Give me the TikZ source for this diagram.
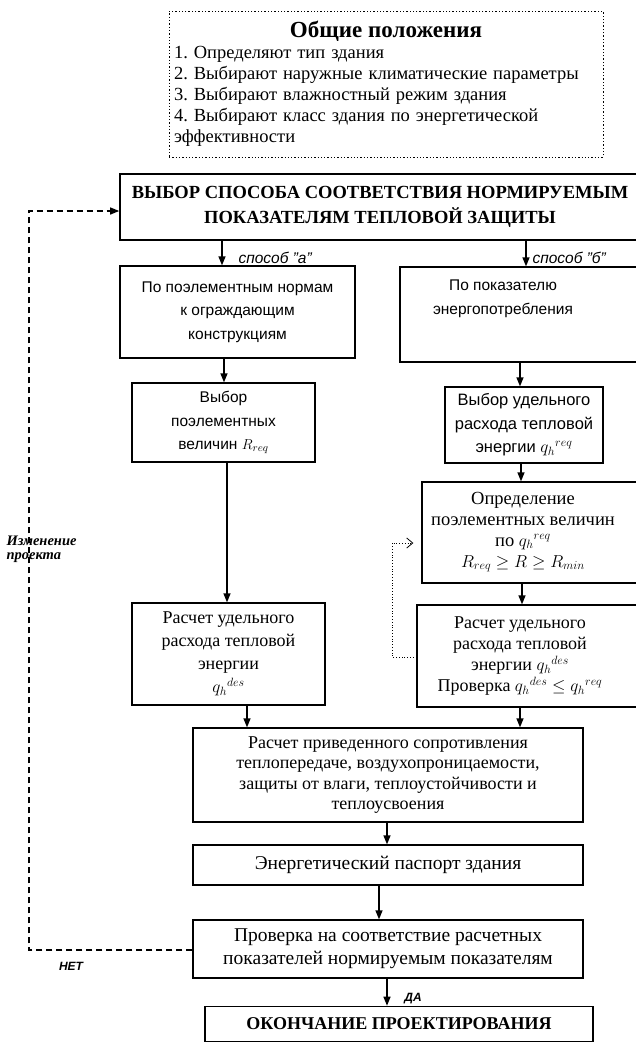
\documentclass[tikz,border=0pt]{standalone}
\usepackage{amsmath,amssymb}
\usepackage{fontspec}
\setmainfont{Liberation Serif}
\setsansfont{Liberation Sans}
\usetikzlibrary{arrows.meta,calc,positioning}
\frenchspacing
\newcommand{\qh}[1]{q_h{}^{#1}}

\begin{document}
\begin{tikzpicture}[x=1pt, y=-1pt,
  every node/.style={font=\fontsize{18}{21}\selectfont},
  box/.style={draw, line width=1.3pt, align=center, inner sep=0pt},
  sbox/.style={box, font=\sffamily\fontsize{15.5}{23.5}\selectfont},
  arr/.style={-{Triangle[length=9pt,width=7pt]}, line width=1.3pt},
  way/.style={font=\sffamily\itshape\fontsize{15.5}{17}\selectfont, anchor=west},
  yesno/.style={font=\sffamily\bfseries\itshape\fontsize{12}{14}\selectfont}]
  \useasboundingbox (0,0) rectangle (636,1045);
  \clip (0,0) rectangle (636,1045);
  % general provisions
  \node[box, dotted, line width=0.8pt, minimum width=434pt, minimum height=146pt,
        text width=424pt, align=left] (general) at (386,84)
    {{\centering\bfseries\fontsize{23}{21}\selectfont Общие положения\par}
     {\fontsize{18.5}{21}\selectfont 1. Определяют тип здания\\
      2. Выбирают наружные климатические параметры\\
      3. Выбирают влажностный режим здания\\
      4. Выбирают класс здания по энергетической\\
      эффективности\par}};
  % choice of the method
  \node[box, line width=1.6pt, minimum width=520pt, minimum height=66pt,
        font=\bfseries\fontsize{18.5}{25}\selectfont] (choice) at (380,207)
    {ВЫБОР СПОСОБА СООТВЕТСТВИЯ НОРМИРУЕМЫМ\\ПОКАЗАТЕЛЯМ ТЕПЛОВОЙ ЗАЩИТЫ};
  % method a
  \node[sbox, minimum width=235pt, minimum height=92pt] (elemnorm) at (237.5,312)
    {По поэлементным нормам\\к ограждающим\\конструкциям};
  \node[sbox, minimum width=183pt, minimum height=79pt] (elemsel) at (223.5,422.5)
    {Выбор\\поэлементных\\величин $R_{req}$};
  \node[box, minimum width=193pt, minimum height=102pt, font=\fontsize{18}{23}\selectfont] (qdes) at (228.5,654)
    {Расчет удельного\\расхода тепловой\\энергии\\$\qh{des}$};
  % method b
  \node[box, minimum width=240pt, minimum height=95pt] (energy) at (520,314.5) {};
  \node[sbox, draw=none] (energytxt) at (503,299) {По показателю\\энергопотребления};
  \node[sbox, minimum width=158pt, minimum height=76pt, font=\sffamily\fontsize{16.5}{23.5}\selectfont] (qsel) at (524,425)
    {Выбор удельного\\расхода тепловой\\энергии $\qh{req}$};
  \node[box, minimum width=218pt, minimum height=101pt] (elemdef) at (531,532.5) {};
  \node[align=center, font=\fontsize{18.5}{21}\selectfont] (elemdeftxt) at (523,532)
    {Определение\\поэлементных величин\\по $\qh{req}$\\$R_{req}\geq R\geq R_{min}$};
  \node[box, minimum width=223pt, minimum height=102pt] (qcalc) at (528.5,656) {};
  \node[align=center] (qcalctxt) at (520,656)
    {Расчет удельного\\расхода тепловой\\энергии $\qh{des}$\\Проверка $\qh{des}\leq \qh{req}$};
  % common part
  \node[box, minimum width=390pt, minimum height=94pt, font=\fontsize{18}{20.5}\selectfont] (resist) at (388,775)
    {Расчет приведенного сопротивления\\теплопередаче, воздухопроницаемости,\\защиты от влаги, теплоустойчивости и\\теплоусвоения};
  \node[box, minimum width=390pt, minimum height=40pt, font=\fontsize{19.5}{21}\selectfont] (passport) at (388,865)
    {Энергетический паспорт здания};
  \node[box, minimum width=390pt, minimum height=58pt, font=\fontsize{19.5}{23}\selectfont] (check) at (388,949)
    {Проверка на соответствие расчетных\\показателей нормируемым показателям};
  \node[box, line width=1.6pt, minimum width=388pt, minimum height=35pt,
        font=\bfseries\fontsize{18}{21}\selectfont] (finish) at (399,1024)
    {ОКОНЧАНИЕ ПРОЕКТИРОВАНИЯ};
  % arrows
  \foreach \a/\b/\x in {choice/elemnorm/222, choice/energy/526, elemnorm/elemsel/224,
      elemsel/qdes/227, energy/qsel/520, qsel/elemdef/521, elemdef/qcalc/522,
      qdes/resist/247, qcalc/resist/520, resist/passport/387, passport/check/379,
      check/finish/387}
    {\coordinate (col) at (\x,0);
     \draw[arr] (\a.south -| col) -- (\b.north -| col);}
  \node[way] (waya) at (235,258) {способ "а"};
  \node[way] (wayb) at (529,258) {способ "б"};
  \node[yesno] (yes) at (413,999) {ДА};
  % loop back
  \coordinate (loopb) at (29,950);
  \coordinate (loopt) at (29,211);
  \draw[arr, dash pattern=on 6pt off 4pt] (check.west |- loopb) -- (loopb) -- (loopt) -- (choice.west |- loopt);
  \node[yesno] (no) at (71,966) {НЕТ};
  \node[font=\bfseries\itshape\fontsize{14.5}{14}\selectfont, align=left, anchor=west] (change) at (3,549)
    {Изменение\\проекта};
  % iteration on method b
  \coordinate (itb) at (392,657);
  \coordinate (itt) at (392,543);
  \draw[-{Straight Barb[length=6pt,width=10pt]}, dotted, line width=0.8pt, shorten >=8pt]
    (qcalc.west |- itb) -- (itb) -- (itt) -- (elemdef.west |- itt);
\end{tikzpicture}
\end{document}
